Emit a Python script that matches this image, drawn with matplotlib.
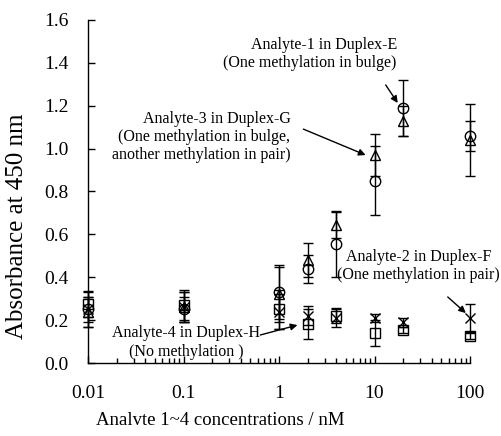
import numpy as np
import matplotlib
matplotlib.use('Agg')
import matplotlib.pyplot as plt
from matplotlib.ticker import FixedLocator, LogLocator, NullFormatter

conc = [0.01, 0.1, 1, 2, 4, 10, 20, 100]

# Analyte-1 in Duplex-E (circles)
a1 = [0.25, 0.25, 0.33, 0.44, 0.555, 0.85, 1.19, 1.06]
a1_err = [0.08, 0.06, 0.125, 0.065, 0.155, 0.16, 0.13, 0.07]
# Analyte-3 in Duplex-G (triangles)
a3 = [0.24, 0.26, 0.32, 0.48, 0.645, 0.97, 1.13, 1.04]
a3_err = [0.07, 0.07, 0.13, 0.08, 0.06, 0.10, 0.07, 0.17]
# Analyte-2 in Duplex-F (crosses)
a2 = [0.25, 0.26, 0.24, 0.22, 0.21, 0.21, 0.19, 0.21]
a2_err = [0.06, 0.07, 0.08, 0.045, 0.04, 0.02, 0.02, 0.065]
# Analyte-4 in Duplex-H (squares)
a4 = [0.275, 0.27, 0.25, 0.18, 0.22, 0.14, 0.155, 0.125]
a4_err = [0.06, 0.07, 0.09, 0.07, 0.035, 0.06, 0.015, 0.015]

plt.rcParams['font.family'] = 'Liberation Serif'

fig = plt.figure(figsize=(5.02, 4.36), dpi=100)
ax = fig.add_axes([88 / 502, 73 / 436, 382 / 502, 343 / 436])

style = dict(color='black', ecolor='black', elinewidth=1, capsize=3.5, capthick=1,
             linestyle='None', markerfacecolor='none', markeredgecolor='black',
             markeredgewidth=1, markersize=7.5)
for vals, errs, mk in [(a4, a4_err, 's'), (a2, a2_err, 'x'), (a1, a1_err, 'o'), (a3, a3_err, '^')]:
    cont = ax.errorbar(conc, vals, yerr=errs, marker=mk, **style)
    for art in cont.get_children():
        art.set_clip_on(False)

ax.set_xscale('log')
ax.set_xlim(0.01, 100)
ax.set_ylim(0, 1.6)
yt = np.arange(0, 1.61, 0.2)
ax.set_yticks(yt)
ax.set_yticklabels(['%.1f' % v for v in yt])
ax.xaxis.set_major_locator(FixedLocator([0.01, 0.1, 1, 10, 100]))
ax.set_xticklabels(['0.01', '0.1', '1', '10', '100'])
ax.xaxis.set_minor_locator(LogLocator(base=10, subs=np.arange(2, 10)))
ax.xaxis.set_minor_formatter(NullFormatter())

for s in ['top', 'right']:
    ax.spines[s].set_visible(False)
for s in ['left', 'bottom']:
    ax.spines[s].set_linewidth(1)

ax.tick_params(axis='y', direction='in', length=5, width=1, labelsize=14, pad=14)
ax.tick_params(axis='x', which='major', direction='in', length=5, width=1, labelsize=14, pad=16)
ax.tick_params(axis='x', which='minor', direction='in', length=3.5, width=1)

ax.set_xlabel('Analvte 1~4 concentrations / nM', fontsize=13.5)
ax.set_ylabel('Absorbance at 450 nm', fontsize=18)
ax.xaxis.set_label_coords(0.345, -0.143)
ax.yaxis.set_label_coords(-0.157, 0.40)

fs = 11.5
ax.text(17.1, 1.441, 'Analyte-1 in Duplex-E\n(One methylation in bulge)',
        ha='right', va='center', multialignment='right', fontsize=fs)
ax.text(1.317, 1.054, 'Analyte-3 in Duplex-G\n(One methylation in bulge,\nanother methylation in pair)',
        ha='right', va='center', multialignment='right', fontsize=fs)
ax.text(29.0, 0.452, 'Analyte-2 in Duplex-F\n(One methylation in pair)',
        ha='center', va='center', multialignment='center', fontsize=fs)
ax.text(0.1067, 0.0956, 'Analyte-4 in Duplex-H\n(No methylation )',
        ha='center', va='center', multialignment='center', fontsize=fs)

arrow = dict(arrowstyle='-|>', color='black', lw=1, mutation_scale=10, shrinkA=0, shrinkB=0)
ax.annotate('', xy=(17.5, 1.213), xytext=(13.1, 1.297), arrowprops=arrow)
ax.annotate('', xy=(8.07, 0.970), xytext=(1.80, 1.091), arrowprops=arrow)
ax.annotate('', xy=(90.4, 0.233), xytext=(58.5, 0.308), arrowprops=arrow)
ax.annotate('', xy=(1.56, 0.177), xytext=(0.638, 0.1306), arrowprops=arrow)

fig.savefig('out.png', dpi=100)
